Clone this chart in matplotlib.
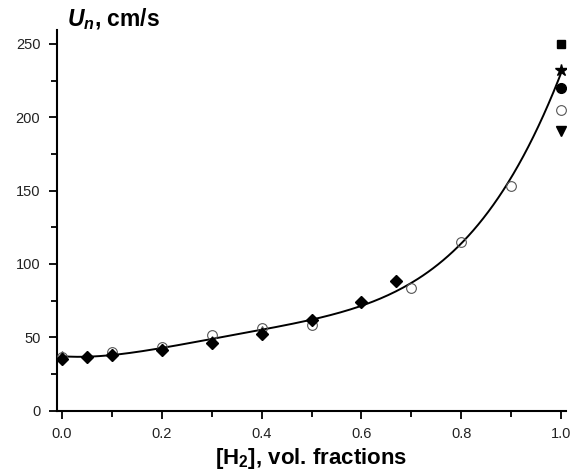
import matplotlib
matplotlib.use('Agg')
import matplotlib.pyplot as plt
import numpy as np
from matplotlib.ticker import MultipleLocator, FormatStrFormatter

plt.rcParams['font.family'] = ['Liberation Sans', 'DejaVu Sans']
plt.rcParams['mathtext.fontset'] = 'custom'
plt.rcParams['mathtext.rm'] = 'Liberation Sans'
plt.rcParams['mathtext.bf'] = 'Liberation Sans:bold'
plt.rcParams['mathtext.it'] = 'Liberation Sans:italic'
plt.rcParams['mathtext.bfit'] = 'Liberation Sans:bold:italic'

# data
x_diam = [0.0, 0.05, 0.1, 0.2, 0.3, 0.4, 0.5, 0.6, 0.67]
y_diam = [35.2, 36.8, 38.0, 41.5, 46.0, 52.5, 61.8, 74.3, 88.6]

x_circ = [0.0, 0.1, 0.2, 0.3, 0.4, 0.5, 0.7, 0.8, 0.9, 1.0]
y_circ = [36.5, 40.2, 43.6, 51.5, 56.5, 58.4, 83.8, 115.1, 153.3, 204.8]

x_tri = [0.0, 0.1, 0.2, 0.3, 0.4]
y_tri = [37.9, 39.3, 43.0, 48.2, 55.0]

# other points at pure hydrogen
y_square = 250.0
y_star = 232.5
y_fcirc = 220.3
y_dtri = 190.5

fig = plt.figure(figsize=(5.72, 4.72), dpi=100)
ax = fig.add_axes([57/572, (472-410.7)/472, (566-57)/572, (410.7-30)/472])

# fitted curve
xf = np.array(x_diam + x_circ[:-1] + x_tri + [1.0])
yf = np.array(y_diam + y_circ[:-1] + y_tri + [y_star])
coef = np.polyfit(xf, yf, 4)
xx = np.linspace(0, 1, 200)
ax.plot(xx, np.polyval(coef, xx), color='black', lw=1.4, zorder=2)

ax.plot(x_tri, y_tri, ls='none', marker='^', ms=6, mfc='white', mec='#555555', mew=0.8, zorder=3)
ax.plot(x_circ, y_circ, ls='none', marker='o', ms=7, mfc='none', mec='#555555', mew=0.8, zorder=3)
ax.plot(x_diam, y_diam, ls='none', marker='D', ms=6, color='black', zorder=4)
ax.plot([1.0], [y_square], ls='none', marker='s', ms=6, color='black')
ax.plot([1.0], [y_star], ls='none', marker='*', ms=9, color='black')
ax.plot([1.0], [y_fcirc], ls='none', marker='o', ms=7, color='black')
ax.plot([1.0], [y_dtri], ls='none', marker='v', ms=7, color='black')

ax.set_xlim(-0.01, 1.01)
ax.set_ylim(0, 259.5)
ax.xaxis.set_major_locator(MultipleLocator(0.2))
ax.xaxis.set_minor_locator(MultipleLocator(0.1))
ax.yaxis.set_major_locator(MultipleLocator(50))
ax.yaxis.set_minor_locator(MultipleLocator(25))
ax.xaxis.set_major_formatter(FormatStrFormatter('%.1f'))

for s in ['top', 'right']:
    ax.spines[s].set_visible(False)
for s in ['left', 'bottom']:
    ax.spines[s].set_linewidth(1.5)
ax.tick_params(which='major', direction='out', length=6, width=1.3, labelsize=10.5, pad=6,
               labelcolor='#222222')
ax.tick_params(which='minor', direction='out', length=4, width=1.3)

ax.set_xlabel('[H$_\\mathbf{2}$], vol. fractions', fontsize=16, fontweight='bold', labelpad=3)
fig.text(67/572, 1 - 26/472, '$\\mathbfit{U}_\\mathbfit{n}$, cm/s', fontsize=16.5,
         fontweight='bold', ha='left', va='baseline')

fig.savefig('out.png', dpi=100)
